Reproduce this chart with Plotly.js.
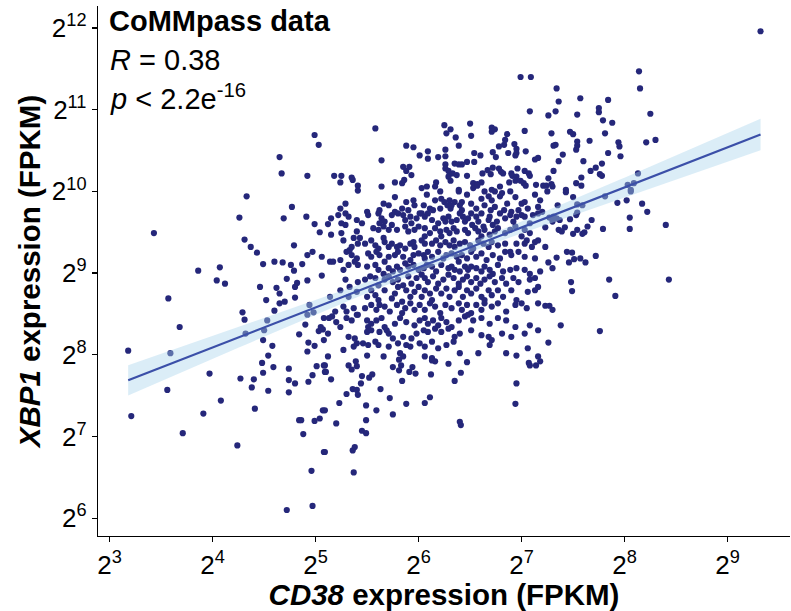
<!DOCTYPE html>
<html>
<head>
<meta charset="utf-8">
<script src="https://cdn.plot.ly/plotly-3.0.1.min.js"></script>
<style>html,body{margin:0;padding:0;background:#fff;}#chart{width:791px;height:611px;}</style>
</head>
<body>
<div id="chart"></div>
<script>
// log2(FPKM) values, grouped by region of the plot
const cd38_a = [4.99,5.03,4.65,4.67,4.92];
const xbp1_a = [10.69,10.57,10.42,10.22,10.19];

const cd38_b = [6.99,7.09,7.08,5.58,6.25,6.31,6.50,6.27,6.36,6.51,6.71,6.74,6.71,7.03,6.86,6.84,6.83,6.93,5.88,5.95,6.39,6.78,6.26,6.09,6.01,6.09,6.19,6.26,6.54,6.60,6.72,6.75,6.87,6.95,6.95,6.94,7.04,7.13,7.16,5.64,5.85,5.91,5.88,5.93,6.26,6.35,6.39,6.42,6.47,6.54,6.26,6.29,6.33,6.37,6.47,6.62,6.67,6.72,6.70,6.78,6.80,6.82,6.90,6.91,6.96,6.95,7.03,7.07,7.08,5.18,5.25,5.24,5.35,5.36,5.41,5.64,5.77,5.84,5.86,6.17,6.29,6.31,6.53,6.57,6.61,6.88,6.94,6.99,7.02,7.04,7.14,7.21,6.03,6.08,6.16,6.39,6.53,6.57,6.71,6.79];
const xbp1_b = [11.40,11.40,10.98,10.77,10.81,10.76,10.83,10.71,10.66,10.68,10.78,10.76,10.73,10.74,10.70,10.63,10.57,10.58,10.56,10.54,10.56,10.55,10.51,10.49,10.44,10.40,10.42,10.43,10.47,10.44,10.48,10.42,10.47,10.52,10.47,10.44,10.49,10.39,10.41,10.38,10.30,10.30,10.25,10.20,10.33,10.34,10.33,10.33,10.36,10.36,10.28,10.25,10.22,10.20,10.19,10.22,10.26,10.29,10.21,10.28,10.24,10.22,10.22,10.19,10.28,10.18,10.25,10.22,10.19,10.19,10.19,10.11,10.17,10.14,10.07,10.06,10.11,10.10,10.14,10.11,10.18,10.13,10.10,10.09,10.11,10.11,10.13,10.13,10.10,10.07,10.08,10.07,10.04,10.06,10.06,10.02,10.04,10.07,10.02,10.06];

const cd38_c = [9.32,8.14,8.15,7.34,7.36,7.57,7.84,7.75,7.75,7.26,7.33,7.54,7.79,7.88,8.25,7.29,7.47,7.50,7.81,7.31,7.33,7.54,7.54,7.53,7.66,7.94,7.95,8.21,8.30,7.40,7.36,7.60,7.84,7.96,7.78,7.72,7.67,7.76,7.78,7.31,7.26,7.58,7.53,7.58,8.13,8.03,8.09,7.24,7.29,7.30,7.43,8.06];
const xbp1_c = [11.96,11.47,11.26,11.26,11.10,11.14,11.12,11.02,10.97,10.93,10.98,10.94,10.87,10.84,10.95,10.71,10.73,10.70,10.71,10.56,10.57,10.61,10.56,10.51,10.62,10.60,10.55,10.60,10.63,10.45,10.37,10.37,10.47,10.43,10.34,10.29,10.25,10.21,10.19,10.25,10.16,10.17,10.10,10.07,10.22,10.08,10.10,10.07,10.09,10.06,10.02,10.02];

const cd38_d = [4.33,4.77,4.26,4.69,4.91,4.99,5.04,3.43,4.31,4.37,4.43,4.79,4.92,4.97,5.06,4.49,4.60,4.68,4.76,4.87,4.79,3.86,4.07,4.04,4.12,4.72,4.82,4.80,4.92,5.06,4.46,4.62,4.65,4.52,4.70,4.65,4.80,3.57,4.29,4.31,4.60,4.53,4.94,4.92,4.98,5.08,3.68,4.32,4.50,4.90,4.84,5.03,5.05,5.07,4.49,4.58,4.93,4.99,5.08,4.54,4.92,3.18,3.59];
const xbp1_d = [9.94,9.81,9.68,9.67,9.69,9.60,9.50,9.49,9.41,9.32,9.25,9.34,9.22,9.26,9.20,9.11,9.14,9.13,9.10,9.11,9.03,9.03,9.07,8.91,8.87,8.93,8.88,8.83,8.91,8.97,8.83,8.82,8.75,8.67,8.65,8.63,8.70,8.69,8.52,8.43,8.54,8.42,8.61,8.49,8.52,8.45,8.34,8.26,8.30,8.37,8.25,8.29,8.34,8.31,8.18,8.11,8.15,8.11,8.18,7.99,8.04,8.05,8.02];

const cd38_f = [7.25,7.43,7.50,8.06,7.81,7.35,7.54,7.59,7.93,8.02,8.17,8.22,7.54,7.53,7.27,7.31,7.34,7.30,7.37,7.47,7.68,8.05,8.40,7.23,7.42,7.36,7.39,7.54,7.50,7.59,7.61,7.64,7.79,8.05,7.23,7.44,7.49,7.72,7.34,7.26,7.46,7.51,7.57,7.62,7.30,7.48,7.49,7.85,8.43,7.91,7.23,7.27,7.30,7.38,7.76,7.26];
const xbp1_f = [10.00,9.99,9.93,10.00,9.94,9.83,9.84,9.83,9.86,9.89,9.85,9.75,9.74,9.71,9.68,9.69,9.67,9.63,9.65,9.66,9.65,9.68,9.59,9.56,9.56,9.53,9.51,9.53,9.48,9.48,9.50,9.57,9.54,9.54,9.32,9.26,9.25,9.21,9.19,9.13,9.13,9.17,9.18,9.13,9.06,8.89,8.78,8.92,8.92,8.72,8.60,8.60,8.55,8.36,8.29,8.15];

const cd38_g = [3.97,3.56,3.21,4.08,3.91,3.71,4.24,4.27,4.40,4.38,4.48,4.49,4.59,4.54,4.41,4.74,4.74,4.80,4.74,4.93,4.97,5.01,5.08,5.09,5.07,5.04,4.99,4.84,4.86,4.88,5.08,4.96,4.97,4.72];
const xbp1_g = [7.77,7.57,7.25,7.44,7.28,7.04,6.89,7.71,7.70,7.60,7.90,7.78,7.85,7.56,7.34,7.83,7.69,7.65,7.54,7.67,7.75,7.86,7.87,7.79,7.32,7.22,7.19,7.20,7.20,7.03,6.81,6.58,6.15,6.10];

const cd38_h = [5.09,5.10,5.15,5.32,5.35,5.39,5.40,5.45,5.44,5.52,5.55,5.36,5.40,5.41,5.30,5.23,5.09,5.20,5.49,5.59,5.49,5.45,5.49,5.63,5.72,5.75,5.75,5.81,5.83,5.81,5.91,5.94,5.97,5.84,5.88,6.12,6.11,6.06,6.13,6.16,6.29,6.47,6.41,6.35,6.40,6.41,5.09,5.36,5.38,5.37,6.95,6.94,7.07,7.08,7.14,7.18];
const xbp1_h = [7.87,7.79,7.70,7.87,7.82,7.92,7.86,7.74,7.65,7.72,7.76,7.58,7.57,7.51,7.52,7.41,7.32,7.16,7.38,7.32,7.20,7.07,7.04,7.58,7.47,7.27,7.85,7.94,7.87,7.81,7.79,7.85,7.77,7.68,7.40,7.76,7.48,7.41,7.93,7.92,7.89,7.91,7.78,7.68,7.18,7.14,6.81,6.83,6.87,6.56,7.65,7.40,7.90,7.87,7.87,7.92];

const cd38_e1 = [5.41,5.77,5.88,5.95,5.96,6.08,6.16,6.21,6.22,6.25,6.30,6.35,6.39,6.42,6.47,6.51,6.61,6.64,6.68,6.71,6.74,6.79,6.81,6.86,6.89,6.94,7.00,7.03,7.13,7.18,5.29,5.24,5.66,5.71,5.84,5.90,6.01,6.05,6.11,6.14,6.21,6.28,6.31,6.32,6.40,6.42,6.51,6.56,6.64,6.70,6.74,6.83,6.90,6.97,7.06,7.16];
const xbp1_e1 = [10.01,9.93,9.87,9.89,9.83,9.96,9.89,10.00,9.91,9.87,9.89,9.87,10.00,9.87,9.96,9.85,9.91,10.00,9.94,9.89,10.00,9.94,9.98,9.85,10.00,9.93,9.85,9.87,9.96,9.89,9.85,9.79,9.85,9.83,9.79,9.77,9.73,9.83,9.79,9.77,9.79,9.83,9.79,9.83,9.83,9.77,9.73,9.79,9.83,9.77,9.81,9.77,9.75,9.77,9.79,9.81];

const cd38_e2 = [5.15,5.22,5.29,5.32,5.12,5.25,5.29,5.50,5.51,5.40,5.45,5.62,5.61,5.64,5.67,5.74,5.77,5.80,5.85,5.87,5.92,5.93,5.98,6.03,6.06,6.09,6.13,6.19,6.24,6.26,6.29,6.32,6.37,6.40,6.43,6.45,6.48,6.52,6.56,6.58,6.61,6.63,6.68,6.69,6.72,6.76,6.79,6.84,6.89,6.92,6.95,7.00,7.03,7.08,7.11,7.16,7.20];
const xbp1_e2 = [9.67,9.71,9.73,9.69,9.60,9.61,9.59,9.75,9.71,9.65,9.61,9.77,9.73,9.67,9.63,9.71,9.75,9.73,9.71,9.65,9.69,9.61,9.67,9.73,9.69,9.73,9.65,9.61,9.67,9.63,9.69,9.63,9.65,9.73,9.69,9.63,9.67,9.59,9.69,9.63,9.73,9.57,9.65,9.69,9.59,9.63,9.73,9.67,9.71,9.63,9.69,9.71,9.69,9.61,9.71,9.73,9.75];

const cd38_e3 = [5.15,5.25,5.37,5.40,5.43,5.56,5.61,5.66,5.62,5.71,5.74,5.79,5.87,5.90,5.96,6.00,6.06,6.06,6.11,6.16,6.21,6.22,6.27,6.30,6.34,6.37,6.45,6.48,6.55,6.58,6.61,6.64,6.69,6.74,6.77,6.84,6.89,6.94,7.00,7.03,7.08,7.13,7.05];
const xbp1_e3 = [9.47,9.49,9.43,9.51,9.43,9.55,9.53,9.57,9.61,9.53,9.59,9.53,9.57,9.51,9.53,9.57,9.55,9.45,9.49,9.55,9.51,9.45,9.53,9.49,9.55,9.51,9.53,9.49,9.55,9.51,9.45,9.53,9.47,9.51,9.55,9.49,9.53,9.57,9.45,9.53,9.49,9.38,9.40];

const cd38_e4 = [5.27,5.33,5.35,5.41,5.48,5.54,5.58,5.61,5.66,5.67,5.71,5.74,5.79,5.82,5.87,5.92,5.95,5.96,6.03,6.06,6.13,6.17,6.21,6.26,6.30,6.34,6.35,6.40,6.45,6.50,6.53,6.58,6.63,6.68,6.71,6.77,6.84,6.89,6.95,7.03,7.10,7.16];
const xbp1_e4 = [9.40,9.28,9.32,9.36,9.36,9.40,9.34,9.30,9.43,9.38,9.32,9.36,9.32,9.34,9.30,9.36,9.38,9.32,9.40,9.36,9.36,9.40,9.34,9.38,9.34,9.40,9.32,9.36,9.38,9.34,9.30,9.40,9.36,9.32,9.38,9.34,9.36,9.26,9.36,9.36,9.32,9.40];

const cd38_e5 = [5.14,5.17,5.24,5.30,5.35,5.40,5.41,5.51,5.54,5.59,5.62,5.67,5.71,5.77,5.80,5.85,5.92,5.95,6.00,6.05,6.06,6.09,6.13,6.19,6.24,6.27,6.32,6.37,6.39,6.42,6.47,6.51,6.56,6.61,6.66,6.72,6.79,6.84,6.90,6.97,7.03,7.13];
const xbp1_e5 = [9.14,9.14,9.16,9.26,9.22,9.18,9.10,9.24,9.20,9.26,9.22,9.14,9.20,9.22,9.26,9.20,9.16,9.22,9.24,9.22,9.18,9.26,9.20,9.26,9.18,9.22,9.24,9.20,9.14,9.22,9.18,9.26,9.20,9.24,9.16,9.22,9.18,9.26,9.22,9.26,9.20,9.18];

const cd38_e6 = [5.27,5.32,5.38,5.50,5.58,5.61,5.66,5.71,5.75,5.79,5.82,5.87,5.90,5.95,6.00,6.05,6.08,6.13,6.17,6.22,6.29,6.32,6.35,6.40,6.45,6.48,6.51,6.56,6.61,6.64,6.69,6.72,6.77,6.82,6.89,6.95,7.03,7.08,7.18];
const xbp1_e6 = [9.04,9.10,9.14,9.08,9.10,9.04,8.99,9.06,9.02,9.08,9.04,9.12,9.08,9.10,9.04,9.06,9.10,9.08,9.02,9.10,9.06,9.08,9.04,9.02,9.08,9.04,9.08,9.06,9.02,9.08,9.04,8.99,9.10,9.02,9.04,9.06,9.04,8.99,9.02];

const cd38_e7 = [5.29,5.33,5.41,5.48,5.53,5.58,5.61,5.67,5.71,5.75,5.80,5.85,5.90,5.93,5.98,6.03,6.06,6.09,6.14,6.19,6.24,6.29,6.34,6.39,6.43,6.47,6.51,6.56,6.60,6.64,6.69,6.74,6.81,6.85,6.92,6.97,7.08,7.13,7.16];
const xbp1_e7 = [8.92,8.83,8.89,8.92,8.96,8.94,8.85,8.92,8.96,8.89,8.92,8.85,8.96,8.87,8.94,8.98,8.94,8.89,8.96,8.87,8.92,8.98,8.94,8.87,8.92,8.96,8.89,8.94,8.87,8.92,8.96,8.89,8.94,8.87,8.94,8.89,8.92,8.94,8.83];

const cd38_e8 = [5.14,5.24,5.32,5.40,5.50,5.54,5.58,5.61,5.67,5.74,5.77,5.80,5.84,5.88,5.92,5.96,6.00,6.03,6.06,6.11,6.13,6.17,6.22,6.27,6.30,6.35,6.39,6.43,6.47,6.51,6.56,6.61,6.64,6.68,6.71,6.77,6.82,6.90,6.95,7.00,7.06,7.13];
const xbp1_e8 = [8.71,8.79,8.71,8.77,8.71,8.79,8.73,8.67,8.79,8.69,8.75,8.83,8.65,8.79,8.71,8.77,8.83,8.71,8.79,8.75,8.67,8.81,8.75,8.81,8.71,8.79,8.83,8.71,8.79,8.75,8.81,8.71,8.67,8.79,8.73,8.79,8.71,8.79,8.67,8.63,8.77,8.79];

const cd38_e9 = [5.13,5.19,5.27,5.30,5.37,5.41,5.48,5.54,5.59,5.62,5.67,5.72,5.79,5.84,5.87,5.92,5.96,6.01,6.06,6.11,6.16,6.21,6.26,6.32,6.39,6.42,6.47,6.51,6.56,6.61,6.64,6.71,6.77,6.85,6.94,7.05,7.16];
const xbp1_e9 = [8.45,8.53,8.59,8.53,8.57,8.49,8.57,8.61,8.55,8.61,8.59,8.53,8.61,8.51,8.57,8.63,8.55,8.61,8.55,8.63,8.59,8.51,8.61,8.57,8.63,8.55,8.61,8.51,8.61,8.55,8.63,8.59,8.63,8.53,8.61,8.57,8.63];

const cd38_e10 = [5.16,5.20,5.24,5.30,5.35,5.40,5.50,5.51,5.54,5.59,5.64,5.67,5.71,5.77,5.82,5.88,5.96,6.01,6.06,6.09,6.14,6.19,6.22,6.27,6.32,6.39,6.45,6.48,6.53,6.61,6.69,6.77,6.85,6.94,7.08];
const xbp1_e10 = [8.47,8.40,8.34,8.45,8.42,8.49,8.42,8.34,8.38,8.42,8.45,8.34,8.26,8.38,8.45,8.40,8.36,8.42,8.45,8.38,8.42,8.36,8.45,8.40,8.34,8.42,8.47,8.49,8.42,8.45,8.38,8.45,8.42,8.34,8.36];

const cd38_e11 = [5.12,5.32,5.38,5.50,5.54,5.62,5.69,5.75,5.85,5.93,5.98,6.05,6.09,6.16,6.22,6.29,6.35,6.40,6.51,6.61,6.68,6.71,6.81,6.90,7.03,7.16];
const xbp1_e11 = [8.26,8.22,8.20,8.28,8.30,8.28,8.30,8.20,8.22,8.20,8.26,8.30,8.28,8.32,8.28,8.32,8.22,8.26,8.30,8.24,8.22,8.18,8.26,8.22,8.26,8.30];

const cd38_e12 = [5.27,5.37,5.40,5.46,5.51,5.58,5.61,5.71,5.80,5.82,5.88,5.92,6.01,6.06,6.13,6.19,6.27,6.34,6.40,6.58,6.69,6.85,6.95,7.06,7.16,5.12,5.50,5.66,5.85,6.06,6.13];
const xbp1_e12 = [8.06,8.10,8.14,8.14,8.12,8.16,8.12,8.10,8.14,8.02,8.12,8.10,8.14,8.10,8.16,8.08,8.12,8.16,8.02,8.02,8.12,8.02,7.99,8.08,7.98,7.98,7.99,7.98,7.98,7.98,7.96];

const tickExp = [3,4,5,6,7,8,9];
const tickExpY = [6,7,8,9,10,11,12];
const tickTextX = tickExp.map(e => '2<sup>' + e + '</sup>');
const tickTextY = tickExpY.map(e => '2<sup>' + e + '</sup>');

// assemble
const xGroups = [cd38_a,cd38_b,cd38_c,cd38_d,cd38_f,cd38_g,cd38_h,cd38_e1,cd38_e2,cd38_e3,cd38_e4,cd38_e5,cd38_e6,cd38_e7,cd38_e8,cd38_e9,cd38_e10,cd38_e11,cd38_e12];
const yGroups = [xbp1_a,xbp1_b,xbp1_c,xbp1_d,xbp1_f,xbp1_g,xbp1_h,xbp1_e1,xbp1_e2,xbp1_e3,xbp1_e4,xbp1_e5,xbp1_e6,xbp1_e7,xbp1_e8,xbp1_e9,xbp1_e10,xbp1_e11,xbp1_e12];
let X = [], Y = [];
xGroups.forEach((g,i) => { const n = Math.min(g.length, yGroups[i].length); X = X.concat(g.slice(0,n)); Y = Y.concat(yGroups[i].slice(0,n)); });

// linear fit with 95% confidence band (as geom_smooth method = "lm")
const n = X.length;
const mx = X.reduce((a,b)=>a+b,0)/n, my = Y.reduce((a,b)=>a+b,0)/n;
let sxx=0, sxy=0;
for (let i=0;i<n;i++){ sxx += (X[i]-mx)**2; sxy += (X[i]-mx)*(Y[i]-my); }
const b1 = sxy/sxx, b0 = my - b1*mx;
let sse=0; for (let i=0;i<n;i++){ sse += (Y[i]-b0-b1*X[i])**2; }
const s = Math.sqrt(sse/(n-2)), tq = 1.963;
const xmin = Math.min(...X), xmax = Math.max(...X);
const fx=[], fy=[], up=[], lo=[];
for (let k=0;k<=80;k++){
  const x = xmin + (xmax-xmin)*k/80;
  const yhat = b0 + b1*x;
  const se = s*Math.sqrt(1/n + (x-mx)**2/sxx);
  fx.push(x); fy.push(yhat); up.push(yhat + tq*se); lo.push(yhat - tq*se);
}

const FONT = 'Liberation Sans, Arial, Helvetica, sans-serif';
const traces = [
  {x: X, y: Y, type:'scatter', mode:'markers', marker:{color:'#25277A', size:6.2, line:{width:0}}, hoverinfo:'skip', showlegend:false},
  {x: fx.concat(fx.slice().reverse()), y: up.concat(lo.slice().reverse()), type:'scatter', mode:'lines', fill:'toself',
   fillcolor:'rgba(170,213,236,0.42)', line:{width:0}, hoverinfo:'skip', showlegend:false},
  {x: fx, y: fy, type:'scatter', mode:'lines', line:{color:'#3B4FA8', width:2.2}, hoverinfo:'skip', showlegend:false}
];

const layout = {
  width: 791, height: 611,
  margin: {l: 98, r: 1, t: 6, b: 75},
  paper_bgcolor: '#fff', plot_bgcolor: '#fff',
  font: {family: FONT, color: '#000'},
  showlegend: false,
  xaxis: {
    range: [2.887, 9.606], tickvals: tickExp, ticktext: tickTextX,
    showgrid: false, zeroline: false, showline: true, linecolor: '#000', linewidth: 1.3,
    ticks: 'outside', ticklen: 5, tickwidth: 1.2, tickcolor: '#000',
    tickfont: {family: FONT, size: 26, color: '#000'},
    title: {text: '<b><i>CD38</i> expression (FPKM)</b>', font: {family: FONT, size: 29.5, color: '#000'}, standoff: 5},
    fixedrange: true
  },
  yaxis: {
    range: [5.782, 12.269], tickvals: tickExpY, ticktext: tickTextY,
    showgrid: false, zeroline: false, showline: true, linecolor: '#000', linewidth: 1.3,
    ticks: 'outside', ticklen: 5, tickwidth: 1.2, tickcolor: '#000',
    tickfont: {family: FONT, size: 26, color: '#000'},
    title: {text: '<b><i>XBP1</i> expression (FPKM)</b>', font: {family: FONT, size: 29.5, color: '#000'}, standoff: 2},
    fixedrange: true
  },
  annotations: [
    {xref:'paper', yref:'paper', x:0.013, y:0.972, xanchor:'left', yanchor:'middle', showarrow:false,
     text:'<b>CoMMpass data</b>', font:{family: FONT, size: 29, color:'#000'}},
    {xref:'paper', yref:'paper', x:0.014, y:0.898, xanchor:'left', yanchor:'middle', showarrow:false,
     text:'<i>R</i> = 0.38', font:{family: FONT, size: 29, color:'#000'}},
    {xref:'paper', yref:'paper', x:0.014, y:0.828, xanchor:'left', yanchor:'middle', showarrow:false,
     text:'<i>p</i> < 2.2e<sup>-16</sup>', font:{family: FONT, size: 29, color:'#000'}}
  ]
};

Plotly.newPlot('chart', traces, layout, {staticPlot: true, displayModeBar: false});
</script>
</body>
</html>
